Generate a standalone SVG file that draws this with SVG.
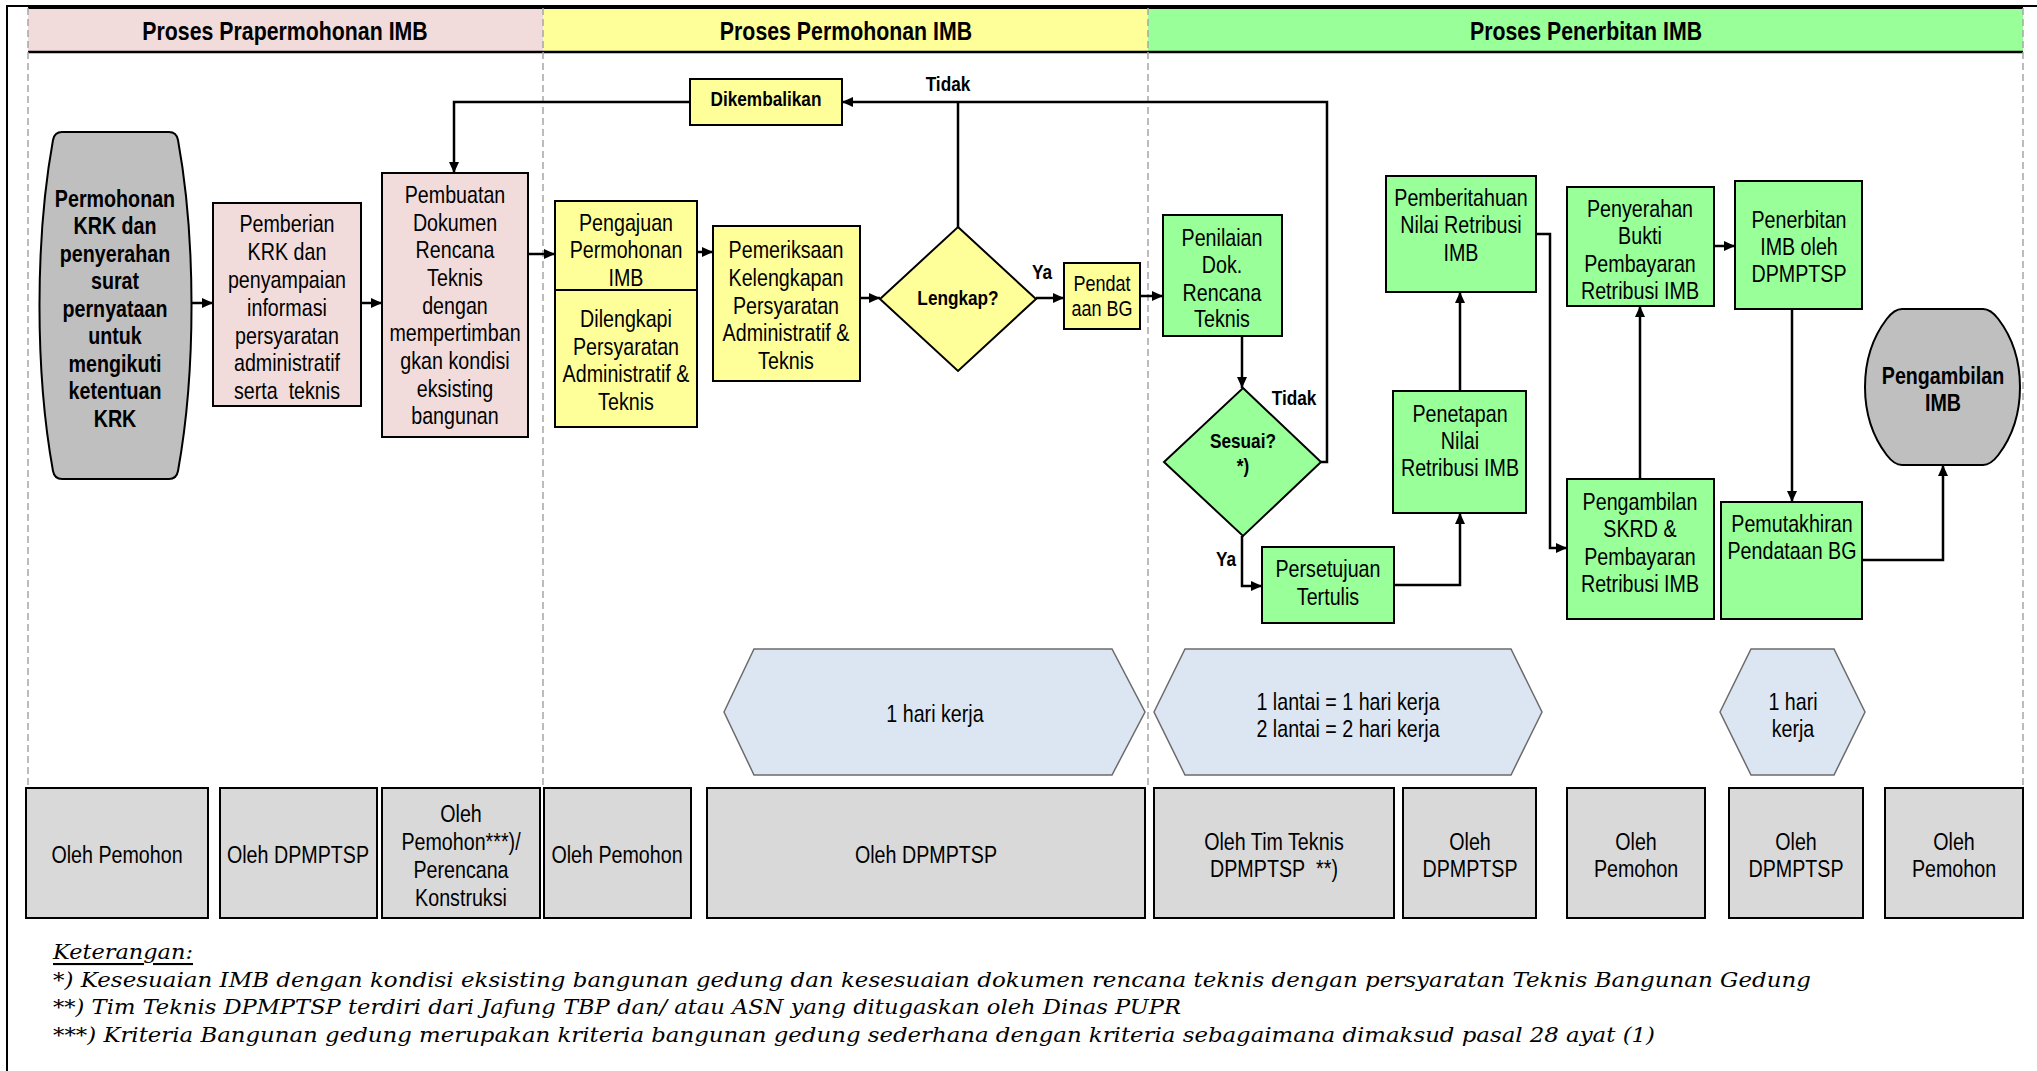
<svg xmlns="http://www.w3.org/2000/svg" width="2037" height="1071" viewBox="0 0 2037 1071">
<style>
.t{font-family:"Liberation Sans",Arial,sans-serif;font-size:24px;text-anchor:middle;dominant-baseline:central;fill:#000}
.b{font-weight:bold}
.lb{font-size:21px;font-weight:bold}
.hd{font-size:26px;font-weight:bold}
.sm{font-size:22px}
.box{stroke:#000;stroke-width:2}
.pink{fill:#F2DCDB}
.yel{fill:#FFFF99}
.grn{fill:#99FF99}
.gry{fill:#BFBFBF}
.who{fill:#D9D9D9;stroke:#000;stroke-width:2}
.hex{fill:#DCE6F2;stroke:#6B6B6B;stroke-width:1.5}
.lane{stroke:#A6A6A6;stroke-width:1.5;stroke-dasharray:7 4;fill:none}
.con{stroke:#000;stroke-width:2.5;fill:none;marker-end:url(#ah)}
.conn{stroke:#000;stroke-width:2.5;fill:none}
.note{font-family:"DejaVu Serif","Liberation Serif",serif;font-style:italic;font-size:21px;dominant-baseline:central;fill:#000}
</style>
<defs>
<marker id="ah" markerUnits="userSpaceOnUse" markerWidth="11" markerHeight="10" refX="11" refY="5" orient="auto">
<path d="M0,0 L11,5 L0,10 z" fill="#000"/>
</marker>
</defs>
<rect width="2037" height="1071" fill="#fff"/>
<!-- frame -->
<path d="M7,1071 V6 H2037" stroke="#000" stroke-width="2" fill="none"/>
<!-- header -->
<g id="header">
<rect x="28" y="7" width="515" height="45" class="pink"/>
<rect x="543" y="7" width="605" height="45" class="yel"/>
<rect x="1148" y="7" width="875" height="45" class="grn"/>
<line x1="28" y1="52" x2="2023" y2="52" stroke="#000" stroke-width="2.5"/>
<line x1="28" y1="8" x2="2023" y2="8" stroke="#000" stroke-width="2"/>
<text class="t hd" x="285" y="31" transform="matrix(.82 0 0 1 51.3 0)">Proses Prapermohonan IMB</text>
<text class="t hd" x="846" y="31" transform="matrix(.82 0 0 1 152.28 0)">Proses Permohonan IMB</text>
<text class="t hd" x="1586" y="31" transform="matrix(.82 0 0 1 285.48 0)">Proses Penerbitan IMB</text>
</g>
<!-- lanes -->
<g id="lanes">
<line class="lane" x1="28" y1="8" x2="28" y2="788"/>
<line class="lane" x1="543" y1="8" x2="543" y2="788"/>
<line class="lane" x1="1148" y1="8" x2="1148" y2="788"/>
<line class="lane" x1="2023" y1="8" x2="2023" y2="788"/>
</g>
<!-- connectors -->
<g id="connectors">
<line class="con" x1="192" y1="303" x2="213" y2="303"/>
<line class="con" x1="361" y1="303" x2="382" y2="303"/>
<line class="con" x1="528" y1="254" x2="555" y2="254"/>
<polyline class="con" points="690,102 454,102 454,173"/>
<line class="con" x1="697" y1="252" x2="713" y2="252"/>
<line class="con" x1="860" y1="298" x2="880" y2="298"/>
<line class="conn" x1="958" y1="227" x2="958" y2="102"/>
<polyline class="con" points="1321,462 1327,462 1327,102 842,102"/>
<line class="con" x1="1036" y1="298" x2="1064" y2="298"/>
<line class="con" x1="1140" y1="296" x2="1163" y2="296"/>
<line class="con" x1="1242" y1="336" x2="1242" y2="388"/>
<polyline class="con" points="1242,536 1242,586 1262,586"/>
<polyline class="con" points="1394,585 1460,585 1460,513"/>
<line class="con" x1="1460" y1="391" x2="1460" y2="292"/>
<polyline class="con" points="1536,234 1550,234 1550,548 1567,548"/>
<line class="con" x1="1640" y1="479" x2="1640" y2="306"/>
<line class="con" x1="1714" y1="246" x2="1735" y2="246"/>
<line class="con" x1="1792" y1="309" x2="1792" y2="502"/>
<polyline class="con" points="1862,560 1943,560 1943,465"/>
<text class="t lb" x="948" y="84" transform="matrix(.82 0 0 1 170.64 0)">Tidak</text>
<text class="t lb" x="1042" y="272" transform="matrix(.82 0 0 1 187.56 0)">Ya</text>
<text class="t lb" x="1294" y="398" transform="matrix(.82 0 0 1 232.92 0)">Tidak</text>
<text class="t lb" x="1226" y="559" transform="matrix(.82 0 0 1 220.68 0)">Ya</text>
</g>
<!-- nodes -->
<g id="n-permohonan-krk">
<path class="box gry" d="M62,132 L169,132 Q176.5,132 178,140 A76.5,291.6 0 0 1 178,471 Q176.5,479 169,479 L62,479 Q54.5,479 53,471 A76.5,291.6 0 0 1 53,140 Q54.5,132 62,132 Z"/>
<text class="t b" transform="matrix(.82 0 0 1 20.7 0)"><tspan x="115" y="198">Permohonan</tspan><tspan x="115" y="225">KRK dan</tspan><tspan x="115" y="253">penyerahan</tspan><tspan x="115" y="280">surat</tspan><tspan x="115" y="308">pernyataan</tspan><tspan x="115" y="335">untuk</tspan><tspan x="115" y="363">mengikuti</tspan><tspan x="115" y="390">ketentuan</tspan><tspan x="115" y="418">KRK</tspan></text>
</g>
<g id="n-pemberian-krk">
<rect class="box pink" x="213" y="203" width="148" height="203"/>
<text class="t" transform="matrix(.82 0 0 1 51.66 0)"><tspan x="287" y="223">Pemberian</tspan><tspan x="287" y="251">KRK dan</tspan><tspan x="287" y="279">penyampaian</tspan><tspan x="287" y="307">informasi</tspan><tspan x="287" y="335">persyaratan</tspan><tspan x="287" y="362">administratif</tspan><tspan x="287" y="390">serta&#160; teknis</tspan></text>
</g>
<g id="n-pembuatan">
<rect class="box pink" x="382" y="173" width="146" height="264"/>
<text class="t" transform="matrix(.82 0 0 1 81.9 0)"><tspan x="455" y="194">Pembuatan</tspan><tspan x="455" y="222">Dokumen</tspan><tspan x="455" y="249">Rencana</tspan><tspan x="455" y="277">Teknis</tspan><tspan x="455" y="305">dengan</tspan><tspan x="455" y="332">mempertimban</tspan><tspan x="455" y="360">gkan kondisi</tspan><tspan x="455" y="388">eksisting</tspan><tspan x="455" y="415">bangunan</tspan></text>
</g>
<g id="n-pengajuan">
<rect class="box yel" x="555" y="201" width="142" height="89"/>
<text class="t" transform="matrix(.82 0 0 1 112.68 0)"><tspan x="626" y="222">Pengajuan</tspan><tspan x="626" y="249">Permohonan</tspan><tspan x="626" y="277">IMB</tspan></text>
</g>
<g id="n-dilengkapi">
<rect class="box yel" x="555" y="290" width="142" height="137"/>
<text class="t" transform="matrix(.82 0 0 1 112.68 0)"><tspan x="626" y="318">Dilengkapi</tspan><tspan x="626" y="346">Persyaratan</tspan><tspan x="626" y="373">Administratif &amp;</tspan><tspan x="626" y="401">Teknis</tspan></text>
</g>
<g id="n-dikembalikan">
<rect class="box yel" x="690" y="79" width="152" height="46"/>
<text class="t lb" x="766" y="99" transform="matrix(.82 0 0 1 137.88 0)">Dikembalikan</text>
</g>
<g id="n-pemeriksaan">
<rect class="box yel" x="713" y="226" width="147" height="155"/>
<text class="t" transform="matrix(.82 0 0 1 141.48 0)"><tspan x="786" y="249">Pemeriksaan</tspan><tspan x="786" y="277">Kelengkapan</tspan><tspan x="786" y="305">Persyaratan</tspan><tspan x="786" y="332">Administratif &amp;</tspan><tspan x="786" y="360">Teknis</tspan></text>
</g>
<g id="n-lengkap">
<polygon class="box yel" points="958,227 1036,299 958,371 880,299"/>
<text class="t lb" x="958" y="298" transform="matrix(.82 0 0 1 172.44 0)">Lengkap?</text>
</g>
<g id="n-pendataan">
<rect class="box yel" x="1064" y="263" width="76" height="66"/>
<text class="t sm" transform="matrix(.82 0 0 1 198.36 0)"><tspan x="1102" y="283">Pendat</tspan><tspan x="1102" y="308">aan BG</tspan></text>
</g>
<g id="n-penilaian">
<rect class="box grn" x="1163" y="215" width="119" height="121"/>
<text class="t" transform="matrix(.82 0 0 1 219.96 0)"><tspan x="1222" y="237">Penilaian</tspan><tspan x="1222" y="264">Dok.</tspan><tspan x="1222" y="292">Rencana</tspan><tspan x="1222" y="318">Teknis</tspan></text>
</g>
<g id="n-sesuai">
<polygon class="box grn" points="1243,388 1321,462 1243,536 1164,462"/>
<text class="t lb" transform="matrix(.82 0 0 1 223.74 0)"><tspan x="1243" y="440">Sesuai?</tspan><tspan x="1243" y="465">*)</tspan></text>
</g>
<g id="n-persetujuan">
<rect class="box grn" x="1262" y="547" width="132" height="76"/>
<text class="t" transform="matrix(.82 0 0 1 239.04 0)"><tspan x="1328" y="568">Persetujuan</tspan><tspan x="1328" y="596">Tertulis</tspan></text>
</g>
<g id="n-penetapan">
<rect class="box grn" x="1393" y="391" width="133" height="122"/>
<text class="t" transform="matrix(.82 0 0 1 262.8 0)"><tspan x="1460" y="413">Penetapan</tspan><tspan x="1460" y="440">Nilai</tspan><tspan x="1460" y="467">Retribusi IMB</tspan></text>
</g>
<g id="n-pemberitahuan">
<rect class="box grn" x="1386" y="176" width="150" height="116"/>
<text class="t" transform="matrix(.82 0 0 1 262.98 0)"><tspan x="1461" y="197">Pemberitahuan</tspan><tspan x="1461" y="224">Nilai Retribusi</tspan><tspan x="1461" y="252">IMB</tspan></text>
</g>
<g id="n-pengambilan-skrd">
<rect class="box grn" x="1567" y="479" width="147" height="140"/>
<text class="t" transform="matrix(.82 0 0 1 295.2 0)"><tspan x="1640" y="501">Pengambilan</tspan><tspan x="1640" y="528">SKRD &amp;</tspan><tspan x="1640" y="556">Pembayaran</tspan><tspan x="1640" y="583">Retribusi IMB</tspan></text>
</g>
<g id="n-penyerahan">
<rect class="box grn" x="1567" y="187" width="147" height="119"/>
<text class="t" transform="matrix(.82 0 0 1 295.2 0)"><tspan x="1640" y="208">Penyerahan</tspan><tspan x="1640" y="235">Bukti</tspan><tspan x="1640" y="263">Pembayaran</tspan><tspan x="1640" y="290">Retribusi IMB</tspan></text>
</g>
<g id="n-penerbitan">
<rect class="box grn" x="1735" y="181" width="127" height="128"/>
<text class="t" transform="matrix(.82 0 0 1 323.82 0)"><tspan x="1799" y="219">Penerbitan</tspan><tspan x="1799" y="246">IMB oleh</tspan><tspan x="1799" y="273">DPMPTSP</tspan></text>
</g>
<g id="n-pemutakhiran">
<rect class="box grn" x="1721" y="502" width="141" height="117"/>
<text class="t" transform="matrix(.82 0 0 1 322.56 0)"><tspan x="1792" y="523">Pemutakhiran</tspan><tspan x="1792" y="550">Pendataan BG</tspan></text>
</g>
<g id="n-pengambilan-imb">
<path class="box gry" d="M1902,309 L1983,309 Q1990.7,309 1998.3,319 A77.5,98 0 0 1 1998.3,455 Q1990.7,465 1983,465 L1902,465 Q1894.3,465 1886.7,455 A77.5,98 0 0 1 1886.7,319 Q1894.3,309 1902,309 Z"/>
<text class="t b" transform="matrix(.82 0 0 1 349.74 0)"><tspan x="1943" y="375">Pengambilan</tspan><tspan x="1943" y="402">IMB</tspan></text>
</g>
<!-- durations -->
<g id="d-1">
<polygon class="hex" points="724,712 754,649 1112,649 1145,712 1112,775 754,775"/>
<text class="t" x="935" y="714" transform="matrix(.82 0 0 1 168.3 0)">1 hari kerja</text>
</g>
<g id="d-2">
<polygon class="hex" points="1154,712 1185,649 1511,649 1542,712 1511,775 1185,775"/>
<text class="t" transform="matrix(.82 0 0 1 242.64 0)"><tspan x="1348" y="701">1 lantai = 1 hari kerja</tspan><tspan x="1348" y="728">2 lantai = 2 hari kerja</tspan></text>
</g>
<g id="d-3">
<polygon class="hex" points="1720,712 1751,649 1834,649 1865,712 1834,775 1751,775"/>
<text class="t" transform="matrix(.82 0 0 1 322.74 0)"><tspan x="1793" y="701">1 hari</tspan><tspan x="1793" y="728">kerja</tspan></text>
</g>
<!-- actors -->
<g id="a-1"><rect class="who" x="26" y="788" width="182" height="130"/><text class="t" x="117" y="855" transform="matrix(.82 0 0 1 21.06 0)">Oleh Pemohon</text></g>
<g id="a-2"><rect class="who" x="220" y="788" width="157" height="130"/><text class="t" x="298" y="855" transform="matrix(.82 0 0 1 53.64 0)">Oleh DPMPTSP</text></g>
<g id="a-3"><rect class="who" x="382" y="788" width="158" height="130"/><text class="t" transform="matrix(.82 0 0 1 82.98 0)"><tspan x="461" y="813">Oleh</tspan><tspan x="461" y="841">Pemohon***)/</tspan><tspan x="461" y="869">Perencana</tspan><tspan x="461" y="897">Konstruksi</tspan></text></g>
<g id="a-4"><rect class="who" x="544" y="788" width="147" height="130"/><text class="t" x="617" y="855" transform="matrix(.82 0 0 1 111.06 0)">Oleh Pemohon</text></g>
<g id="a-5"><rect class="who" x="707" y="788" width="438" height="130"/><text class="t" x="926" y="855" transform="matrix(.82 0 0 1 166.68 0)">Oleh DPMPTSP</text></g>
<g id="a-6"><rect class="who" x="1154" y="788" width="240" height="130"/><text class="t" transform="matrix(.82 0 0 1 229.32 0)"><tspan x="1274" y="841">Oleh Tim Teknis</tspan><tspan x="1274" y="868">DPMPTSP&#160; **)</tspan></text></g>
<g id="a-7"><rect class="who" x="1403" y="788" width="133" height="130"/><text class="t" transform="matrix(.82 0 0 1 264.6 0)"><tspan x="1470" y="841">Oleh</tspan><tspan x="1470" y="868">DPMPTSP</tspan></text></g>
<g id="a-8"><rect class="who" x="1567" y="788" width="138" height="130"/><text class="t" transform="matrix(.82 0 0 1 294.48 0)"><tspan x="1636" y="841">Oleh</tspan><tspan x="1636" y="868">Pemohon</tspan></text></g>
<g id="a-9"><rect class="who" x="1729" y="788" width="134" height="130"/><text class="t" transform="matrix(.82 0 0 1 323.28 0)"><tspan x="1796" y="841">Oleh</tspan><tspan x="1796" y="868">DPMPTSP</tspan></text></g>
<g id="a-10"><rect class="who" x="1885" y="788" width="138" height="130"/><text class="t" transform="matrix(.82 0 0 1 351.72 0)"><tspan x="1954" y="841">Oleh</tspan><tspan x="1954" y="868">Pemohon</tspan></text></g>
<!-- notes -->
<g id="notes">
<text class="note" x="53" y="952" text-decoration="underline" textLength="140" lengthAdjust="spacingAndGlyphs">Keterangan:</text>
<text class="note" x="53" y="980" textLength="1758" lengthAdjust="spacingAndGlyphs">*) Kesesuaian IMB dengan kondisi eksisting bangunan gedung dan kesesuaian dokumen rencana teknis dengan persyaratan Teknis Bangunan Gedung</text>
<text class="note" x="53" y="1007" textLength="1128" lengthAdjust="spacingAndGlyphs">**) Tim Teknis DPMPTSP terdiri dari Jafung TBP dan/ atau ASN yang ditugaskan oleh Dinas PUPR</text>
<text class="note" x="53" y="1035" textLength="1602" lengthAdjust="spacingAndGlyphs">***) Kriteria Bangunan gedung merupakan kriteria bangunan gedung sederhana dengan kriteria sebagaimana dimaksud pasal 28 ayat (1)</text>
</g>
</svg>
